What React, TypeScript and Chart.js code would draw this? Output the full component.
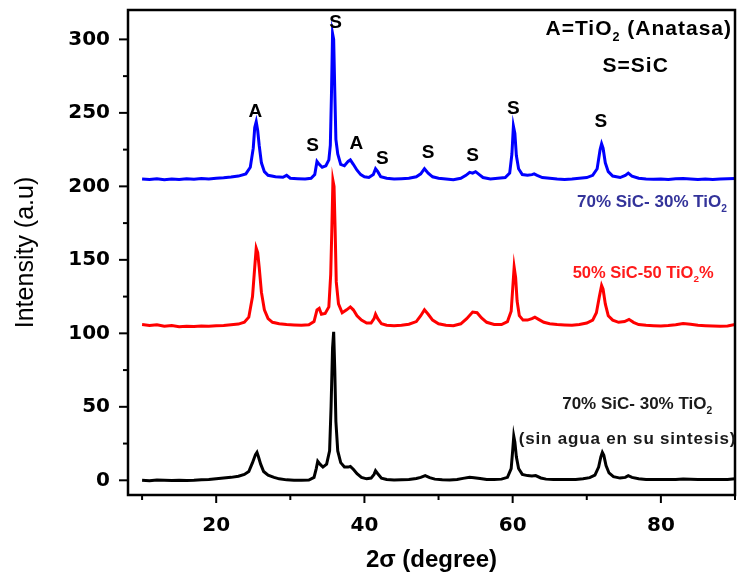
import React, { useEffect, useRef } from "react";
import { Chart, registerables } from "chart.js";

Chart.register(...registerables);

// ---- data (2θ, intensity) ----
const blueTrace: [number, number][] = [
  [10,205],[11,204.6],[12,205.2],[13,204.5],[14,205],[15,204.7],[16,205.1],[17,204.8],[18,205.3],[19,205],[20,205.5],[21,205.8],[22,206.3],[23,207],[24,208.5],[24.6,213],[25,226],[25.2,240],[25.4,244],[25.6,238],[25.8,228],[26.1,216],[26.5,210],[27,207.5],[28,206.5],[29,206.2],[29.5,207.5],[30,205.5],[31,205.2],[32,205],[32.8,205.5],[33.3,208],[33.6,217],[33.9,215],[34.3,213],[34.8,214],[35.2,218],[35.4,228],[35.55,262],[35.7,304],[35.85,300],[36.0,265],[36.15,232],[36.4,222],[36.8,215],[37.3,214],[37.8,217],[38.1,218],[38.5,215],[39,211],[39.5,208],[40,206.5],[40.6,206],[41.2,208],[41.5,212],[41.8,210],[42.2,206.5],[43,205.5],[44,205],[45,205.2],[46,205.5],[47,206.5],[47.6,208.5],[48.1,212],[48.6,209],[49.2,206.5],[50,205.5],[51,205],[52,204.5],[53,205.5],[53.7,207.5],[54.2,209.5],[54.6,209],[55,210],[55.5,208],[56,206],[57,205],[58,205.5],[59,206],[59.6,209],[59.9,222],[60.1,241],[60.3,236],[60.5,221],[60.8,212],[61.3,208],[62,207.5],[62.6,208],[62.9,208.5],[63.3,207.5],[64,206],[65,205.5],[66,205],[67,204.7],[68,205],[69,205.5],[70,206],[70.8,207.5],[71.4,212],[71.8,225],[72.0,229],[72.2,226],[72.5,216],[72.9,210],[73.5,207],[74.5,206],[75.2,207.5],[75.6,209],[76.1,207],[77,205.5],[78,205],[79,204.8],[80,205],[81,204.7],[82,205.2],[83,205.3],[84,205],[85,204.6],[86,205],[87,204.7],[88,205],[89,205.2],[90,205.4]
];

const redTrace: [number, number][] = [
  [10,106],[11,105.4],[12,105.8],[13,104.8],[14,105.3],[15,104.5],[16,104.8],[17,104.6],[18,105],[19,104.9],[20,105.2],[21,105.4],[22,105.8],[23,106.3],[23.8,107.5],[24.4,111],[24.9,125],[25.2,145],[25.4,158],[25.6,155],[25.8,145],[26.1,128],[26.5,116],[27,110],[27.6,107.5],[28.5,106.5],[29.5,106],[30.5,105.7],[31.5,105.5],[32.5,105.8],[33.2,108],[33.6,116],[33.9,117],[34.2,113],[34.7,113.5],[35.2,118],[35.45,140],[35.6,170],[35.75,204],[35.9,200],[36.05,170],[36.2,135],[36.5,120],[37,114],[37.6,116],[38.1,118],[38.5,116],[39,112],[39.6,109],[40.3,107],[40.9,107],[41.3,110],[41.5,113],[41.8,110],[42.3,106.5],[43,105.5],[44,105.2],[45,105.5],[46,106.2],[47,108],[47.6,112],[48.1,116],[48.6,113],[49.2,109],[50,106.5],[51,105.5],[52,105.2],[53,106.5],[53.8,110],[54.6,114.5],[55.2,114],[55.8,110.5],[56.5,107.5],[57.5,106],[58.5,106],[59.3,108],[59.8,115],[60.0,130],[60.2,145],[60.4,138],[60.6,122],[60.9,112],[61.4,109],[62,109],[62.6,110],[63,111],[63.5,109.5],[64.2,107.5],[65,106.5],[66,106],[67,105.7],[68,105.5],[69,106],[70,107],[70.8,109],[71.3,114],[71.7,125],[72.0,132.5],[72.2,130],[72.5,120],[72.9,112],[73.5,109],[74.3,107.5],[75.1,108],[75.7,109.5],[76.3,107.5],[77,106],[78,105.5],[79,105.2],[80,105],[81,105.3],[82,105.8],[83,106.7],[84,106.2],[85,105.5],[86,105.2],[87,105],[88,104.8],[89,105],[90,106]
];

const blackTrace: [number, number][] = [
  [10,0],[11,-0.3],[12,0.2],[13,0],[14,-0.2],[15,0.1],[16,-0.1],[17,0],[18,0.4],[19,0.6],[20,1],[21,1.5],[22,2],[23,2.8],[23.8,4],[24.4,6],[24.9,12],[25.3,17.5],[25.5,19],[25.7,16],[26,11],[26.4,6],[27,3.5],[27.8,2],[28.5,1],[29.5,0.3],[30.5,0],[31.5,0],[32.5,0.2],[33.2,2],[33.5,8],[33.7,13],[34.0,11],[34.4,9],[34.9,11],[35.3,20],[35.5,50],[35.7,90],[35.85,101],[36.0,75],[36.15,40],[36.4,20],[36.8,12],[37.3,9],[37.8,9],[38.1,9.5],[38.5,7.5],[39,4.5],[39.6,2],[40.3,1],[40.9,1.5],[41.3,4],[41.5,6.5],[41.8,4.5],[42.3,1.5],[43,0.5],[44,0.2],[45,0.3],[46,0.5],[47,1.2],[47.6,2],[48.2,3.2],[48.8,1.8],[49.5,0.8],[50.5,0.3],[51.5,0.2],[52.5,0.5],[53.3,1.3],[54.2,2],[54.8,1.8],[55.6,1.2],[56.5,0.5],[57.5,0.6],[58.5,0.8],[59.3,2],[59.8,8],[60.0,20],[60.15,30],[60.3,26],[60.5,16],[60.8,8],[61.3,4],[62,3.2],[62.6,3],[63.1,3.2],[63.8,1.6],[64.5,0.8],[65.5,0.6],[66.5,0.5],[67.5,0.5],[68.5,0.6],[69.5,1],[70.4,1.8],[71.1,3.5],[71.6,9],[71.9,16],[72.1,19],[72.3,17],[72.6,10],[73,5],[73.6,2.5],[74.5,1.5],[75.2,2],[75.6,3.2],[76.1,2],[77,1],[78,0.6],[79,0.5],[80,0.6],[81,0.5],[82,0.6],[83,0.9],[84,0.7],[85,0.6],[86,0.5],[87,0.6],[88,0.5],[89,0.6],[90,1]
];

// peak labels: [2θ, intensity, text]
const peakLabels: [number, number, string][] = [
  [25.3, 251, "A"],
  [33.0, 227.5, "S"],
  [36.1, 311, "S"],
  [38.9, 229, "A"],
  [42.4, 219, "S"],
  [48.6, 223, "S"],
  [54.6, 221, "S"],
  [60.1, 253, "S"],
  [71.9, 244, "S"],
];

const xTicks = [10, 20, 30, 40, 50, 60, 70, 80, 90];
const yTicks = [0, 25, 50, 75, 100, 125, 150, 175, 200, 225, 250, 275, 300];

const xTitle = "2σ (degree)";
const yTitle = "Intensity (a.u)";

// text notes: [2θ, intensity, text ("_2" = subscript 2), color, size, align, spacing]
const notes: [number, number, string, string, number, CanvasTextAlign, number][] = [
  [89.6, 306.7, "A=TiO_2 (Anatasa)", "#000000", 21, "right", 1],
  [76.6, 281.6, "S=SiC", "#000000", 21, "center", 1],
  [78.8, 189, "70% SiC- 30% TiO_2", "#33339a", 17, "center", 0],
  [77.6, 140.8, "50% SiC-50 TiO_2%", "#ff1a1a", 16.5, "center", 0],
  [76.8, 51.5, "70% SiC- 30% TiO_2", "#1a1a1a", 17, "center", 0],
  [75.5, 27.8, "(sin agua en su sintesis)", "#1a1a1a", 17, "center", 0.8],
];

const FONT = "'Liberation Sans', Arial, sans-serif";
const TICK_FONT = "'DejaVu Sans', 'Liberation Sans', sans-serif";

function drawRich(
  ctx: CanvasRenderingContext2D,
  text: string,
  x: number,
  y: number,
  align: CanvasTextAlign,
  size: number,
  color: string,
  spacing: number
) {
  const parts = text.split("_2");
  const segs: { t: string; sub: boolean }[] = [];
  parts.forEach((p, i) => {
    if (p) segs.push({ t: p, sub: false });
    if (i < parts.length - 1) segs.push({ t: "2", sub: true });
  });
  ctx.save();
  (ctx as any).letterSpacing = spacing + "px";
  ctx.fillStyle = color;
  ctx.textBaseline = "middle";
  ctx.textAlign = "left";
  const widths = segs.map((s) => {
    ctx.font = `bold ${s.sub ? size * 0.6 : size}px ${FONT}`;
    return ctx.measureText(s.t).width;
  });
  const total = widths.reduce((a, b) => a + b, 0);
  let cx = align === "right" ? x - total : align === "center" ? x - total / 2 : x;
  segs.forEach((s, i) => {
    ctx.font = `bold ${s.sub ? size * 0.6 : size}px ${FONT}`;
    ctx.fillText(s.t, cx, s.sub ? y + size * 0.38 : y);
    cx += widths[i];
  });
  ctx.restore();
}

const framePlugin = {
  id: "frame",
  afterDatasetsDraw(chart: any) {
    const { ctx, chartArea, scales } = chart;
    const { left, right, top, bottom } = chartArea;
    ctx.save();
    ctx.strokeStyle = "#000";
    ctx.lineWidth = 2.5;
    ctx.strokeRect(left, top, right - left, bottom - top);
    ctx.lineWidth = 2;
    xTicks.forEach((v) => {
      const px = scales.x.getPixelForValue(v);
      const len = v % 20 === 0 ? 8 : 5;
      ctx.beginPath();
      ctx.moveTo(px, bottom);
      ctx.lineTo(px, bottom + len);
      ctx.stroke();
    });
    yTicks.forEach((v) => {
      const py = scales.y.getPixelForValue(v);
      const len = v % 50 === 0 ? 9 : 5;
      ctx.beginPath();
      ctx.moveTo(left, py);
      ctx.lineTo(left - len, py);
      ctx.stroke();
    });
    ctx.restore();

    peakLabels.forEach(([xv, yv, t]) => {
      drawRich(ctx, t, scales.x.getPixelForValue(xv), scales.y.getPixelForValue(yv), "center", 19, "#000", 0);
    });
    notes.forEach(([xv, yv, t, c, s, a, sp]) => {
      drawRich(ctx, t, scales.x.getPixelForValue(xv), scales.y.getPixelForValue(yv), a, s, c, sp);
    });
  },
};

const zeroPad = (s: any) => {
  s.paddingTop = 0;
  s.paddingBottom = 0;
  s.paddingLeft = 0;
  s.paddingRight = 0;
};

export default function App() {
  const ref = useRef<HTMLCanvasElement | null>(null);
  useEffect(() => {
    if (!ref.current) return;
    const mk = (d: [number, number][]) => d.map(([x, y]) => ({ x, y }));
    const chart = new Chart(ref.current, {
      type: "line",
      data: {
        datasets: [
          { data: mk(blackTrace), borderColor: "#000000", borderWidth: 3, pointRadius: 0, tension: 0 },
          { data: mk(redTrace), borderColor: "#ff0000", borderWidth: 3, pointRadius: 0, tension: 0 },
          { data: mk(blueTrace), borderColor: "#0000ff", borderWidth: 3, pointRadius: 0, tension: 0 },
        ],
      },
      options: {
        responsive: false,
        animation: false,
        events: [],
        layout: { padding: { left: 0, right: 2, top: 10, bottom: 0 } },
        plugins: { legend: { display: false }, tooltip: { enabled: false } },
        scales: {
          x: {
            type: "linear",
            min: 8.1,
            max: 90,
            afterFit: (s: any) => { s.height = 81; zeroPad(s); },
            grid: { display: false, drawTicks: false },
            border: { display: false },
            ticks: {
              stepSize: 10,
              includeBounds: false,
              autoSkip: false,
              maxRotation: 0,
              padding: 19,
              color: "#000",
              font: { family: TICK_FONT, size: 20, weight: "bold" },
              callback: (v: any) => (Number(v) % 20 === 0 ? String(v) : ""),
            },
            title: {
              display: true,
              text: xTitle,
              color: "#000",
              font: { family: FONT, size: 24, weight: "bold" },
              padding: { top: 0, bottom: 1 },
            },
          },
          y: {
            min: -10,
            max: 320,
            afterFit: (s: any) => { s.width = 128; zeroPad(s); },
            grid: { display: false, drawTicks: false },
            border: { display: false },
            ticks: {
              stepSize: 25,
              includeBounds: false,
              autoSkip: false,
              padding: 18,
              color: "#000",
              font: { family: TICK_FONT, size: 20, weight: "bold" },
              callback: (v: any) => (Number(v) % 50 === 0 ? String(v) : ""),
            },
            title: {
              display: true,
              text: yTitle,
              color: "#000",
              font: { family: FONT, size: 25, weight: "normal" },
              padding: { top: 11, bottom: 0 },
            },
          },
        },
      } as any,
      plugins: [framePlugin],
    });
    return () => chart.destroy();
  }, []);
  return (
    <div style={{ position: "absolute", left: 0, top: 0, width: 737, height: 576, background: "#fff" }}>
      <canvas ref={ref} width={737} height={576} />
    </div>
  );
}
